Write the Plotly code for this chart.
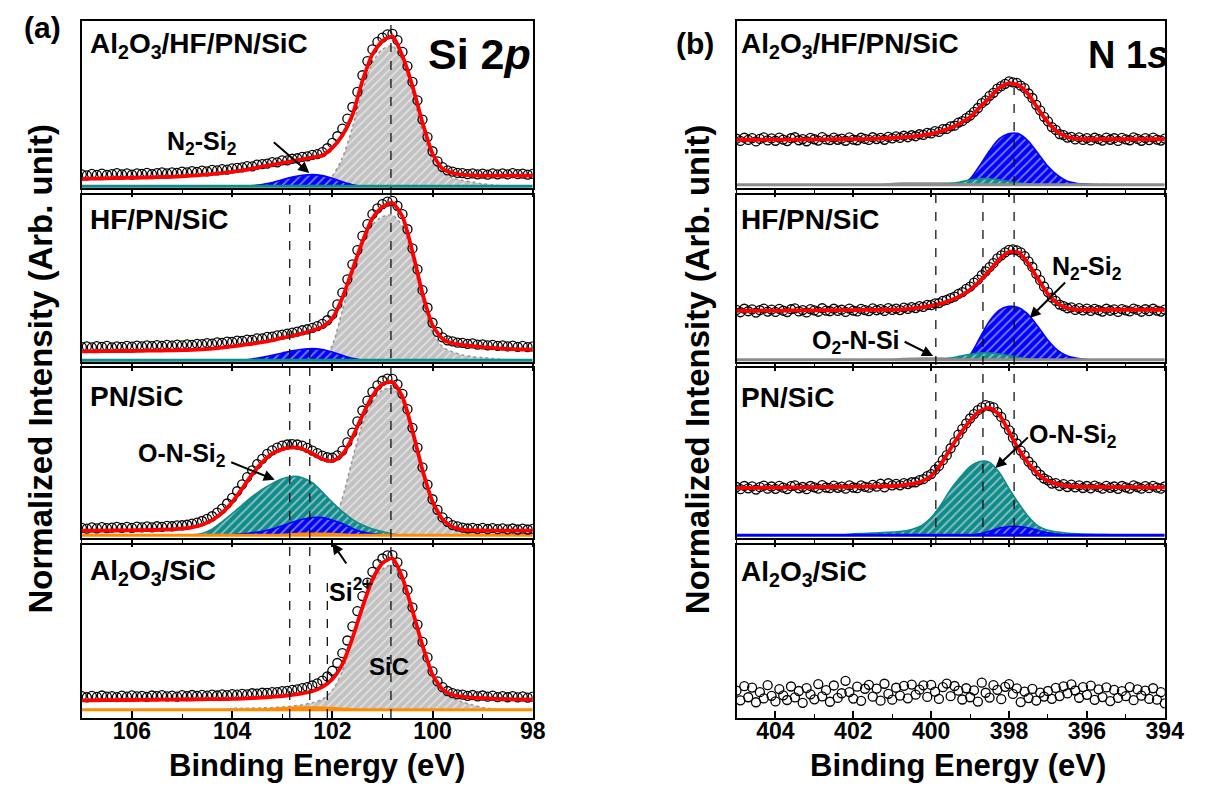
import plotly.graph_objects as go

W, H = 1224, 785
FONT = "Liberation Sans, Arial, sans-serif"

# ---------------- geometry (pixels) ----------------
LEFT_X = (75, 533)
RIGHT_X = (740, 1175)
ROWS = [(13, 180), (187, 354), (360, 530), (537, 710)]
SI_RANGE = [107, 98]
N_RANGE = [405, 394]

SAMPLES = ["Al<sub>2</sub>O<sub>3</sub>/HF/PN/SiC", "HF/PN/SiC", "PN/SiC", "Al<sub>2</sub>O<sub>3</sub>/SiC"]
SI_TICKS = [106, 104, 102, 100, 98]
N_TICKS = [404, 402, 400, 398, 396, 394]

# ---------------- Si 2p : measured points (step 0.1 eV from 107.0) ----------------
SI_DATA_1 = [8.2, 7.6, 8.4, 7.9, 8.6, 7.8, 8.3, 8.9, 8.1, 8.7,
             8.0, 8.8, 8.5, 9.1, 8.3, 8.9, 9.4, 8.7, 9.3, 9.0,
             9.8, 9.3, 10.1, 9.6, 10.4, 10.0, 10.8, 10.5, 11.3, 11.0,
             11.8, 12.0, 12.3, 13.1, 13.0, 14.0, 14.3, 14.6, 15.5, 15.4,
             16.5, 16.6, 17.5, 17.8, 18.6, 18.9, 19.8, 20.3, 21.5, 23.8,
             27.0, 31.0, 35.5, 41.5, 48.5, 57.5, 67.5, 76.0, 83.0, 87.5,
             90.0, 92.0, 92.3, 88.5, 81.5, 73.0, 63.5, 52.5, 41.0, 30.5,
             22.0, 16.0, 12.5, 10.6, 9.8, 9.0, 8.9, 8.3, 8.7, 8.1,
             8.6, 8.0, 8.8, 8.2, 8.7, 8.1, 8.9, 8.3, 8.6, 8.0, 8.5]
SI_DATA_2 = [8.9, 9.3, 8.7, 9.5, 9.0, 9.6, 8.8, 9.4, 9.1, 9.7,
             9.2, 9.8, 9.3, 9.9, 9.5, 10.1, 9.6, 10.2, 9.8, 10.4,
             10.0, 10.6, 10.3, 10.9, 10.7, 11.3, 11.0, 11.7, 11.5, 12.2,
             12.0, 12.8, 12.6, 13.4, 13.3, 14.2, 14.1, 15.0, 15.2, 16.0,
             16.4, 17.0, 17.6, 18.2, 19.0, 19.6, 20.4, 21.5, 22.8, 25.0,
             28.5, 34.5, 41.5, 49.5, 58.5, 67.0, 75.5, 82.5, 88.5, 92.0,
             94.5, 96.0, 96.5, 93.5, 88.5, 79.5, 68.0, 55.5, 43.0, 32.5,
             23.5, 18.0, 14.8, 13.0, 12.3, 11.6, 11.5, 10.9, 11.1, 10.4,
             10.6, 9.9, 10.3, 9.6, 10.0, 9.3, 9.8, 9.1, 9.6, 8.9, 9.4]
SI_DATA_3 = [6.0, 5.5, 6.2, 5.7, 6.4, 5.8, 6.1, 6.6, 5.9, 6.5,
             6.0, 6.7, 6.2, 6.8, 6.3, 6.9, 6.6, 7.1, 6.9, 7.4,
             7.5, 7.8, 8.4, 9.0, 10.0, 11.2, 12.8, 14.9, 17.3, 20.3,
             23.6, 27.5, 31.6, 35.8, 39.8, 43.4, 46.6, 49.5, 51.6, 53.2,
             54.3, 55.0, 55.2, 55.0, 54.3, 53.0, 51.4, 49.9, 48.4, 47.5,
             47.3, 48.6, 51.4, 56.2, 62.0, 68.6, 75.0, 80.8, 86.0, 89.8,
             92.5, 93.8, 93.6, 90.4, 84.8, 75.8, 64.8, 53.2, 41.6, 31.4,
             22.8, 16.6, 12.1, 9.5, 7.6, 6.8, 6.1, 5.6, 6.0, 5.4,
             5.9, 5.3, 5.8, 5.2, 5.7, 5.1, 5.6, 5.0, 5.5, 5.0, 5.4]
SI_DATA_4 = [12.6, 12.0, 12.8, 12.2, 13.0, 12.3, 12.7, 12.1, 12.9, 12.4,
             13.1, 12.5, 12.8, 12.2, 13.0, 12.6, 13.2, 12.5, 12.9, 12.4,
             13.2, 12.7, 13.3, 12.8, 13.4, 12.9, 13.5, 13.0, 13.6, 13.2,
             13.8, 13.5, 14.0, 13.7, 14.3, 14.1, 14.6, 14.5, 15.0, 15.0,
             15.5, 15.7, 16.2, 16.6, 17.3, 17.9, 18.8, 20.0, 21.6, 24.0,
             27.3, 31.8, 37.5, 44.8, 53.0, 61.8, 70.5, 78.2, 84.5, 89.0,
             92.2, 94.0, 94.2, 90.0, 83.0, 74.0, 64.0, 54.0, 44.0, 35.0,
             27.0, 21.2, 17.8, 15.6, 14.4, 13.6, 13.5, 12.8, 13.3, 12.5,
             13.0, 12.3, 12.9, 12.1, 12.7, 12.0, 12.6, 11.9, 12.5, 11.8, 12.4]

# ---------------- Si 2p : fitted envelopes (step 0.2 eV from 107.0) ----------------
SI_FIT_1 = [5.4, 5.6, 5.7, 5.9, 6.0, 6.1, 6.2, 6.4, 6.5, 6.7,
            7.0, 7.4, 7.8, 8.3, 8.9, 9.6, 10.5, 11.6, 12.8, 13.9,
            15.0, 16.1, 17.2, 18.3, 19.5, 24.0, 31.5, 43.6, 64.0, 80.0,
            88.0, 90.8, 79.0, 61.0, 39.0, 20.5, 11.5, 9.0, 8.0, 7.6,
            7.4, 7.4, 7.4, 7.4, 7.4, 7.4]
SI_FIT_2 = [6.4, 6.4, 6.5, 6.5, 6.6, 6.6, 6.7, 6.8, 6.9, 7.0,
            7.1, 7.3, 7.6, 8.0, 8.6, 9.3, 10.1, 10.9, 11.9, 13.0,
            14.4, 15.7, 17.2, 18.8, 21.0, 26.0, 38.3, 55.0, 72.0, 86.0,
            93.0, 95.2, 87.0, 66.0, 41.0, 22.0, 13.8, 11.2, 10.2, 9.5,
            8.9, 8.4, 8.0, 7.7, 7.5, 7.4]
SI_FIT_3 = [4.3, 4.3, 4.3, 4.4, 4.4, 4.5, 4.6, 4.7, 4.9, 5.1,
            5.5, 6.3, 7.8, 10.5, 14.8, 21.0, 29.0, 37.5, 44.5, 49.6,
            52.3, 53.3, 52.5, 49.6, 46.5, 45.3, 49.0, 59.0, 72.0, 83.5,
            90.5, 91.8, 83.0, 63.0, 40.0, 21.5, 11.0, 6.5, 4.9, 4.5,
            4.4, 4.3, 4.3, 4.3, 4.3, 4.3]
SI_FIT_4 = [10.2, 10.2, 10.3, 10.3, 10.4, 10.4, 10.5, 10.5, 10.6, 10.6,
            10.7, 10.7, 10.8, 10.9, 10.9, 11.0, 11.2, 11.5, 11.8, 12.2,
            12.6, 13.3, 14.2, 15.5, 18.0, 22.5, 31.0, 46.0, 64.0, 80.0,
            89.5, 92.3, 81.0, 62.0, 42.0, 25.0, 16.5, 13.3, 12.3, 11.8,
            11.5, 11.2, 11.0, 10.8, 10.7, 10.6]

# ---------------- Si 2p : components (start energy, values every 0.2 eV) ----------------
SI_GRAY_1 = (102.4, [1.0, 1.5, 7, 18, 36, 58, 75, 83, 85, 76, 57, 34, 17, 9, 6, 4.5, 3.5, 2.5, 1.8, 1.3, 1.0])
SI_BLUE_1 = (103.6, [1.0, 2.0, 3.3, 5.0, 6.5, 7.6, 8.0, 7.4, 5.8, 3.8, 2.0, 1.0])
SI_TEAL_1 = (103.8, [1.0, 1.5, 1.9, 2.2, 2.3, 2.3, 2.2, 1.9, 1.5, 1.2, 1.0])
SI_GRAY_2 = (102.4, [1.0, 1.5, 10, 31, 52, 70, 82, 87, 88, 81, 62, 37, 18, 9, 6, 4.2, 3.2, 2.6, 2.1, 1.5, 1.0])
SI_BLUE_2 = (103.8, [1.0, 1.8, 2.8, 4.0, 5.4, 6.7, 7.6, 8.0, 7.5, 6.0, 4.0, 2.2, 1.0])
SI_GRAY_3 = (102.2, [1.6, 8, 23.5, 46, 67, 80, 87, 88, 80, 61, 38, 19.5, 10, 5.5, 3.8, 2.9, 2.2, 1.6])
SI_TEAL_3 = (105.0, [1.6, 1.9, 2.7, 5.2, 9.5, 14.3, 19.4, 24.3, 28.6, 32, 34.8, 36.2, 35.5, 32.5, 27, 21,
                     15.5, 11, 7.6, 5.3, 3.8, 2.4, 1.6])
SI_BLUE_3 = (104.2, [1.6, 1.9, 2.4, 3.0, 3.9, 5.3, 7.2, 9.3, 11.0, 12.1, 12.0, 10.5, 8.5, 5.6, 3.6, 2.5, 1.9, 1.6])
SI_ORANGE_3 = (103.2, [1.6, 2.0, 2.4, 2.7, 2.8, 2.8, 2.6, 2.3, 1.9, 1.6])
SI_GRAY_4 = (104.2, [4.8, 5.5, 5.6, 5.7, 5.8, 6.0, 6.3, 6.8, 7.6, 8.8, 10.8, 16, 27, 46, 64, 78, 86, 88.5, 79,
                     61, 41, 25, 16, 11.5, 9.2, 7.5, 6.0, 5.3, 4.8])
SI_ORANGE_4 = (103.4, [4.8, 5.4, 5.9, 6.2, 6.3, 6.3, 6.2, 6.0, 5.6, 5.2, 4.8])
SI_BASELINES = [1.0, 1.0, 1.6, 4.8]

# ---------------- N 1s : measured points (step 0.1 eV from 405.0) ----------------
N_DATA_1 = [29.5, 28.2, 30.1, 28.8, 29.9, 27.9, 29.4, 30.3, 28.5, 29.7,
            28.3, 30.2, 29.0, 28.1, 29.8, 30.4, 28.6, 29.3, 28.0, 30.0,
            29.2, 28.4, 30.5, 29.1, 28.7, 30.2, 28.9, 29.6, 28.3, 30.3,
            29.0, 28.6, 30.1, 29.4, 28.8, 30.4, 29.3, 30.0, 28.9, 30.6,
            29.7, 30.9, 30.0, 31.3, 30.4, 31.6, 31.0, 32.2, 31.8, 33.0,
            32.7, 34.0, 33.6, 35.2, 35.4, 36.9, 37.3, 39.2, 40.0, 41.9,
            43.4, 45.6, 47.9, 50.8, 52.5, 55.2, 57.0, 59.5, 61.0, 62.4,
            63.8, 63.2, 62.9, 61.3, 59.8, 56.6, 53.9, 49.8, 46.5, 42.6,
            39.9, 36.5, 34.8, 32.3, 31.7, 30.2, 30.6, 29.1, 30.3, 28.8,
            29.9, 28.5, 30.1, 29.3, 28.4, 30.2, 28.9, 29.8, 28.2, 30.0,
            29.1, 28.6, 30.3, 29.4, 28.3, 29.9, 28.7, 30.2, 29.0, 28.4, 29.6]
N_DATA_2 = [31.2, 29.8, 31.9, 30.4, 31.5, 29.6, 31.0, 32.0, 30.2, 31.4,
            30.0, 31.8, 30.7, 29.9, 31.6, 32.1, 30.3, 31.1, 29.7, 31.7,
            30.9, 30.1, 32.2, 30.8, 30.4, 31.9, 30.6, 31.3, 30.0, 32.0,
            30.8, 30.3, 31.8, 31.1, 30.5, 32.1, 31.0, 31.7, 30.6, 32.3,
            31.2, 32.0, 31.1, 32.6, 31.8, 32.9, 32.3, 33.4, 33.0, 34.2,
            34.0, 35.1, 35.3, 36.6, 37.2, 38.3, 39.2, 40.8, 41.9, 43.8,
            45.1, 47.5, 49.3, 52.0, 54.3, 56.8, 59.2, 62.0, 63.9, 65.6,
            67.2, 67.5, 66.9, 65.6, 63.4, 60.2, 56.9, 52.8, 49.0, 45.2,
            41.9, 38.6, 36.6, 34.4, 33.5, 32.2, 32.7, 31.2, 32.3, 30.9,
            32.0, 30.6, 31.8, 31.0, 30.2, 31.9, 30.7, 31.5, 30.0, 31.7,
            30.9, 30.3, 32.0, 31.2, 30.1, 31.6, 30.5, 31.9, 30.8, 30.2, 31.4]
N_DATA_3 = [30.0, 28.7, 30.6, 29.2, 30.4, 28.5, 29.9, 30.8, 29.0, 30.3,
            28.9, 30.7, 29.6, 28.8, 30.5, 31.0, 29.2, 30.0, 28.7, 30.6,
            29.8, 29.0, 31.1, 29.7, 29.3, 30.8, 29.5, 30.2, 29.0, 30.9,
            29.7, 29.3, 30.9, 30.1, 29.6, 31.2, 30.2, 31.9, 29.8, 32.2,
            30.9, 31.8, 31.0, 32.3, 31.7, 32.8, 32.8, 34.0, 34.6, 36.4,
            37.6, 40.2, 42.4, 45.8, 48.7, 52.8, 56.4, 60.8, 64.2, 67.4,
            70.3, 72.9, 75.2, 76.8, 78.2, 77.6, 76.8, 74.0, 71.2, 67.0,
            63.5, 59.0, 55.6, 51.4, 48.6, 45.0, 42.6, 39.4, 37.2, 35.0,
            33.9, 32.0, 32.3, 30.6, 31.7, 30.0, 31.4, 29.8, 30.9, 29.4,
            30.6, 29.2, 30.8, 29.9, 29.0, 30.7, 29.5, 30.3, 28.9, 30.6,
            29.8, 29.1, 30.9, 30.0, 29.0, 30.5, 29.3, 30.7, 29.6, 29.0, 30.3]
N_DATA_4 = [15.8, 10.2, 18.4, 12.0, 17.6, 9.1, 14.9, 11.3, 19.0, 12.8,
            9.6, 16.7, 13.1, 10.4, 18.2, 11.9, 15.6, 8.8, 17.3, 13.7,
            10.8, 19.6, 12.5, 16.1, 9.4, 18.8, 11.6, 14.3, 21.5, 15.0,
            11.2, 18.1, 9.9, 16.9, 19.2, 12.3, 17.0, 10.0, 19.8, 14.0,
            10.6, 17.5, 12.9, 18.6, 11.4, 19.3, 13.5, 16.4, 18.9, 12.2,
            19.1, 15.2, 11.0, 17.8, 19.9, 12.6, 18.5, 15.8, 10.7, 17.2,
            12.0, 16.0, 9.5, 20.4, 14.6, 11.8, 19.0, 16.3, 10.9, 18.0,
            19.6, 13.9, 17.1, 9.2, 15.3, 11.5, 16.8, 10.1, 14.7, 12.4,
            15.6, 11.1, 17.4, 12.7, 18.3, 14.2, 19.4, 15.9, 11.7, 17.9,
            13.4, 18.7, 10.5, 16.6, 12.1, 17.7, 9.8, 16.2, 11.6, 15.5,
            12.6, 17.9, 10.3, 16.5, 12.9, 15.8, 11.0, 17.2, 10.6, 14.9, 8.5]

# ---------------- N 1s : fitted envelopes (step 0.25 eV from 405.0) ----------------
N_FIT_1 = [28.9, 28.9, 28.9, 29.0, 29.0, 29.0, 29.0, 29.1, 29.1, 29.1,
           29.2, 29.2, 29.3, 29.3, 29.5, 29.7, 30.0, 30.4, 30.8, 31.5,
           32.4, 34.0, 36.0, 38.8, 42.3, 48.3, 54.0, 60.0, 62.8, 61.5,
           56.0, 47.3, 39.2, 33.5, 30.5, 29.4, 29.2, 29.2, 29.2, 29.2,
           29.2, 29.2, 29.2, 29.2, 29.2]
N_FIT_2 = [30.7, 30.7, 30.7, 30.8, 30.8, 30.8, 30.9, 30.9, 30.9, 31.0,
           31.0, 31.1, 31.1, 31.2, 31.2, 31.3, 31.3, 31.5, 32.0, 32.7,
           33.7, 35.0, 37.0, 39.6, 43.3, 48.5, 54.8, 61.5, 66.0, 65.5,
           58.8, 49.5, 40.6, 35.0, 32.3, 31.4, 31.3, 31.3, 31.3, 31.3,
           31.3, 31.3, 31.3, 31.3, 31.3]
N_FIT_3 = [29.4, 29.5, 29.5, 29.6, 29.6, 29.7, 29.8, 29.8, 29.9, 30.0,
           30.0, 30.1, 30.2, 30.2, 30.3, 30.4, 30.6, 31.0, 31.8, 33.3,
           36.5, 43.5, 52.7, 61.5, 69.0, 74.6, 76.5, 72.5, 62.5, 52.0,
           43.8, 37.5, 33.5, 31.6, 30.7, 30.3, 30.1, 30.0, 30.0, 29.9,
           29.9, 29.9, 29.8, 29.8, 29.8]

# ---------------- N 1s : components (start energy, values every 0.25 eV) ----------------
N_BLUE_1 = (399.5, [2.0, 2.3, 5.5, 13.5, 22.3, 29.5, 32.6, 32.5, 28.0, 20.5, 13.0, 7.5, 4.0, 2.7, 2.3, 2.0, 2.0])
N_TEAL_1 = (399.75, [2.0, 2.6, 3.6, 4.8, 5.5, 5.5, 4.8, 3.9, 3.0, 2.4, 2.0])
N_GRAY_1 = (401.25, [2.0, 2.6, 2.9, 3.0, 3.0, 3.0, 3.0, 2.9, 2.6, 2.0])
N_BLUE_2 = (399.25, [1.4, 4.5, 14.5, 24.5, 31.0, 33.3, 32.5, 28.3, 21.0, 13.0, 7.0, 3.6, 2.2, 1.4])
N_TEAL_2 = (399.75, [1.4, 2.3, 3.5, 4.6, 5.3, 5.4, 4.8, 3.8, 2.7, 1.9, 1.4])
N_GRAY_2 = (401.0, [1.4, 2.0, 2.2, 2.3, 2.3, 2.3, 2.0, 1.4])
N_TEAL_3 = (402.25, [1.6, 2.4, 2.6, 2.9, 3.2, 3.5, 3.9, 5.0, 7.2, 12.0, 19.5, 28.5, 35.8, 42.0, 45.0, 44.5,
                     38.5, 29.0, 20.3, 12.5, 7.0, 4.6, 3.5, 2.8, 2.4, 2.2, 2.1, 2.0, 1.6])
N_BLUE_3 = (399.0, [1.6, 2.5, 4.0, 5.8, 6.8, 6.8, 5.9, 4.4, 3.0, 2.2, 1.6])
N_BASELINES = [2.0, 1.4, 1.6]

# reference peak positions (dashed lines)
SI_REF_E = [100.83, 102.85, 102.45, 102.1]
N_REF_E = [399.88, 398.67, 397.87]

# ---------------- colours ----------------
RED = "#ff0000"
BLUE = "#0000ff"
TEAL = "#138a8a"
GRAY = "#c2c2c2"
ORANGE = "#ff8c00"
BASEGRAY = "#8c8c8c"


def grid(start, step, n):
    return [round(start - step * i, 3) for i in range(n)]


def px2px(yp):
    return 1 - yp / H


fig = go.Figure()
layout = {}


def axid(k):
    return "" if k == 1 else str(k)


def add_axes(k, xdom, row, rng, tickvals, bottom):
    i = axid(k)
    top, bot = ROWS[row]
    layout["xaxis" + i] = dict(
        domain=[xdom[0] / W, xdom[1] / W], range=rng, anchor="y" + i,
        showline=True, linecolor="black", linewidth=1.5, mirror=True,
        showgrid=False, zeroline=False,
        tickmode="array", tickvals=tickvals,
        ticks="inside" if bottom else "outside", ticklen=7, tickwidth=1.5, tickcolor="black",
        minor=dict(dtick=1, tick0=tickvals[0], ticklen=4, tickwidth=1.2, tickcolor="black",
                   ticks="inside" if bottom else "outside", showgrid=False),
        showticklabels=bottom,
        ticklabelstandoff=-8,
        tickfont=dict(family=FONT, size=23, color="black", weight="bold"),
    )
    layout["yaxis" + i] = dict(
        domain=[px2px(bot), px2px(top)], range=[0, 100], anchor="x" + i,
        showline=True, linecolor="black", linewidth=1.5, mirror=True,
        showgrid=False, zeroline=False, ticks="", showticklabels=False,
    )


def comp(k, comp_def, step, color, linecolor=None, dash="solid"):
    i = axid(k)
    start, vals = comp_def
    fig.add_trace(go.Scatter(
        x=grid(start, step, len(vals)), y=vals, mode="lines",
        line=dict(color=linecolor or color, width=1.6, shape="spline", smoothing=0.8, dash=dash),
        fill="toself", fillcolor=color,
        fillpattern=dict(shape="/", fgcolor="white", bgcolor=color, size=6, solidity=0.3),
        xaxis="x" + i, yaxis="y" + i, hoverinfo="skip"))


def baseline(k, rng, level, color):
    i = axid(k)
    fig.add_trace(go.Scatter(x=rng, y=[level, level], mode="lines",
                             line=dict(color=color, width=3),
                             xaxis="x" + i, yaxis="y" + i, hoverinfo="skip"))


def data(k, start, vals):
    i = axid(k)
    fig.add_trace(go.Scatter(x=grid(start, 0.1, len(vals)), y=vals, mode="markers",
                             marker=dict(symbol="circle-open", size=9, color="black",
                                         line=dict(width=1.3, color="black")),
                             xaxis="x" + i, yaxis="y" + i, hoverinfo="skip", cliponaxis=True))


def fit(k, start, step, vals):
    i = axid(k)
    fig.add_trace(go.Scatter(x=grid(start, step, len(vals)), y=vals, mode="lines",
                             line=dict(color=RED, width=3.8, shape="spline", smoothing=0.6),
                             xaxis="x" + i, yaxis="y" + i, hoverinfo="skip"))


# axes
for r in range(4):
    add_axes(r + 1, LEFT_X, r, SI_RANGE, SI_TICKS, r == 3)
    add_axes(r + 5, RIGHT_X, r, N_RANGE, N_TICKS, r == 3)

# ---- Si 2p panel ----
comp(1, SI_GRAY_1, 0.2, GRAY, "#9a9a9a", "dot")
comp(1, SI_TEAL_1, 0.2, TEAL)
comp(1, SI_BLUE_1, 0.2, BLUE)
baseline(1, SI_RANGE, SI_BASELINES[0], TEAL)
data(1, 107.0, SI_DATA_1)
fit(1, 107.0, 0.2, SI_FIT_1)

comp(2, SI_GRAY_2, 0.2, GRAY, "#9a9a9a", "dot")
comp(2, SI_BLUE_2, 0.2, BLUE)
baseline(2, SI_RANGE, SI_BASELINES[1], TEAL)
data(2, 107.0, SI_DATA_2)
fit(2, 107.0, 0.2, SI_FIT_2)

comp(3, SI_GRAY_3, 0.2, GRAY, "#9a9a9a", "dot")
comp(3, SI_TEAL_3, 0.2, TEAL)
comp(3, SI_BLUE_3, 0.2, BLUE)
comp(3, SI_ORANGE_3, 0.2, ORANGE)
baseline(3, SI_RANGE, SI_BASELINES[2], ORANGE)
data(3, 107.0, SI_DATA_3)
fit(3, 107.0, 0.2, SI_FIT_3)

comp(4, SI_GRAY_4, 0.2, GRAY, "#9a9a9a", "dot")
comp(4, SI_ORANGE_4, 0.2, ORANGE)
baseline(4, SI_RANGE, SI_BASELINES[3], ORANGE)
data(4, 107.0, SI_DATA_4)
fit(4, 107.0, 0.2, SI_FIT_4)

# ---- N 1s panel ----
comp(5, N_GRAY_1, 0.25, BASEGRAY)
comp(5, N_BLUE_1, 0.25, BLUE)
comp(5, N_TEAL_1, 0.25, TEAL)
baseline(5, N_RANGE, N_BASELINES[0], BASEGRAY)
data(5, 405.0, N_DATA_1)
fit(5, 405.0, 0.25, N_FIT_1)

comp(6, N_GRAY_2, 0.25, BASEGRAY)
comp(6, N_BLUE_2, 0.25, BLUE)
comp(6, N_TEAL_2, 0.25, TEAL)
baseline(6, N_RANGE, N_BASELINES[1], BASEGRAY)
data(6, 405.0, N_DATA_2)
fit(6, 405.0, 0.25, N_FIT_2)

comp(7, N_TEAL_3, 0.25, TEAL)
comp(7, N_BLUE_3, 0.25, BLUE)
baseline(7, N_RANGE, N_BASELINES[2], BLUE)
data(7, 405.0, N_DATA_3)
fit(7, 405.0, 0.25, N_FIT_3)

data(8, 405.0, N_DATA_4)

# ---- dashed reference lines ----
shapes = []
SI_SPANS = [(13, 710), (187, 710), (180, 710), (575, 710)]
for e, (a, b) in zip(SI_REF_E, SI_SPANS):
    shapes.append(dict(type="line", xref="x", yref="paper", x0=e, x1=e, y0=px2px(b), y1=px2px(a),
                       line=dict(color="black", width=1.2, dash="dash")))
N_SPANS = [(177, 537), (177, 537), (80, 537)]
for e, (a, b) in zip(N_REF_E, N_SPANS):
    shapes.append(dict(type="line", xref="x5", yref="paper", x0=e, x1=e, y0=px2px(b), y1=px2px(a),
                       line=dict(color="black", width=1.2, dash="dash")))

# ---- annotations ----
ann = []


def ptext(x, y, text, size, xanchor="center", yanchor="middle", angle=0):
    ann.append(dict(xref="paper", yref="paper", x=x / W, y=px2px(y), text=text, showarrow=False,
                    xanchor=xanchor, yanchor=yanchor, textangle=angle,
                    font=dict(family=FONT, size=size, color="black")))


def dtext(k, x, y, text, size=25):
    i = axid(k)
    ann.append(dict(xref="x" + i, yref="y" + i, x=x, y=y, text=text, showarrow=False,
                    xanchor="center", yanchor="middle",
                    font=dict(family=FONT, size=size, color="black")))


def arrow(k, x, y, ax, ay, yref=None):
    i = axid(k)
    ann.append(dict(xref="x" + i, yref=yref or ("y" + i), x=x, y=y, ax=ax, ay=ay, text="",
                    showarrow=True, arrowhead=2, arrowsize=1.1, arrowwidth=2, arrowcolor="black"))


ptext(35, 20, "<b>(a)</b>", 30)
ptext(698, 36, "<b>(b)</b>", 30)
ptext(32, 361, "<b>Normalized Intensity (Arb. unit)</b>", 33, angle=-90)
ptext(700, 361, "<b>Normalized Intensity (Arb. unit)</b>", 33, angle=-90)
ptext(314, 757, "<b>Binding Energy (eV)</b>", 31)
ptext(965, 757, "<b>Binding Energy (eV)</b>", 31)
ptext(533, 46, "<b>Si 2<i>p</i></b>", 43, xanchor="right")
ptext(1180, 47, "<b>N 1<i>s</i></b>", 38, xanchor="right")

LEFT_LABEL_Y = [38, 212, 388, 564]
RIGHT_LABEL_Y = [38, 212, 389, 565]
for s, yl, yr in zip(SAMPLES, LEFT_LABEL_Y, RIGHT_LABEL_Y):
    ptext(81, yl, "<b>" + s + "</b>", 28, xanchor="left")
    ptext(743, yr, "<b>" + s + "</b>", 28, xanchor="left")

# Si 2p labels
dtext(1, 104.6, 27, "<b>N<sub>2</sub>-Si<sub>2</sub></b>")
arrow(1, 102.46, 9.0, -37, -32)
dtext(3, 105.0, 49, "<b>O-N-Si<sub>2</sub></b>")
arrow(3, 103.15, 34.3, -45, -18)
dtext(4, 101.62, 74, "<b>Si<sup>2+</sup></b>")
arrow(4, 102.0, px2px(535), 15, 22, yref="paper")
dtext(4, 100.86, 30, "<b>SiC</b>", 24)

# N 1s labels
dtext(6, 396.0, 56, "<b>N<sub>2</sub>-Si<sub>2</sub></b>")
arrow(6, 397.47, 26.3, 37, -37)
dtext(6, 401.92, 12, "<b>O<sub>2</sub>-N-Si</b>")
arrow(6, 399.95, 3.6, -30, -15)
dtext(7, 396.35, 60, "<b>O-N-Si<sub>2</sub></b>")
arrow(7, 398.35, 41.2, 34, -32)

layout.update(
    width=W, height=H, margin=dict(l=0, r=0, t=0, b=0),
    paper_bgcolor="white", plot_bgcolor="white",
    showlegend=False, shapes=shapes, annotations=ann,
    font=dict(family=FONT, color="black"),
)
fig.update_layout(**layout)
fig.write_html("out.html")
